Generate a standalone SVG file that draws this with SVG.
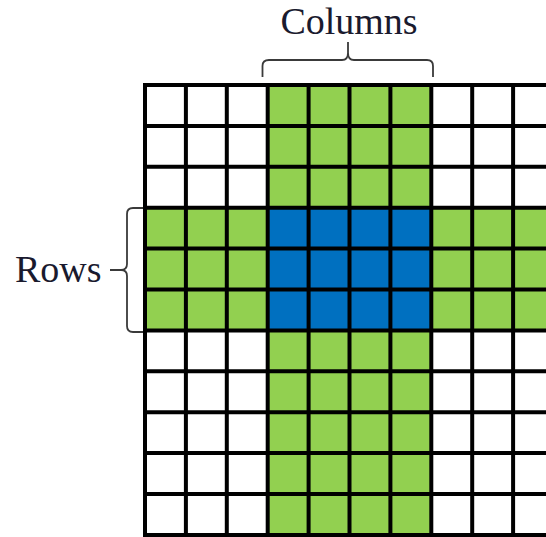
<svg xmlns="http://www.w3.org/2000/svg" width="546" height="537" viewBox="0 0 546 537">
<style>
.lbl{font-family:"Liberation Serif","DejaVu Serif",serif;font-size:38px;fill:#1a1a2e}
.grid line{stroke:#000;stroke-width:4}
.brace{fill:none;stroke:#3a3a3a;stroke-width:1.8;stroke-linejoin:round}
</style>
<rect width="546" height="537" fill="#fff"/>
<g id="cells">
<rect x="267.7" y="85" width="163.6" height="450" fill="#92D050"/>
<rect x="145" y="207.7" width="401" height="122.7" fill="#92D050"/>
<rect x="267.7" y="207.7" width="163.6" height="122.7" fill="#0070C0"/>
</g>
<g id="grid" class="grid">
<line x1="145" y1="83" x2="145" y2="537"/>
<line x1="185.9" y1="83" x2="185.9" y2="537"/>
<line x1="226.8" y1="83" x2="226.8" y2="537"/>
<line x1="267.7" y1="83" x2="267.7" y2="537"/>
<line x1="308.6" y1="83" x2="308.6" y2="537"/>
<line x1="349.5" y1="83" x2="349.5" y2="537"/>
<line x1="390.4" y1="83" x2="390.4" y2="537"/>
<line x1="431.3" y1="83" x2="431.3" y2="537"/>
<line x1="472.2" y1="83" x2="472.2" y2="537"/>
<line x1="513.1" y1="83" x2="513.1" y2="537"/>
<line x1="143" y1="85" x2="546" y2="85"/>
<line x1="143" y1="125.9" x2="546" y2="125.9"/>
<line x1="143" y1="166.8" x2="546" y2="166.8"/>
<line x1="143" y1="207.7" x2="546" y2="207.7"/>
<line x1="143" y1="248.6" x2="546" y2="248.6"/>
<line x1="143" y1="289.5" x2="546" y2="289.5"/>
<line x1="143" y1="330.4" x2="546" y2="330.4"/>
<line x1="143" y1="371.3" x2="546" y2="371.3"/>
<line x1="143" y1="412.2" x2="546" y2="412.2"/>
<line x1="143" y1="453.1" x2="546" y2="453.1"/>
<line x1="143" y1="494" x2="546" y2="494"/>
<line x1="143" y1="534.9" x2="546" y2="534.9"/>
</g>
<g id="columns-label">
<path class="brace" d="M262.5,77 V66 Q262.5,60 269,60 H342 Q348,60 348,53 V42 M348,53 Q348,60 354,60 H427 Q433,60 433,66 V77"/>
<text class="lbl" x="349" y="34" text-anchor="middle">Columns</text>
</g>
<g id="rows-label">
<path class="brace" d="M143,208 H133 Q127,208 127,214 V264 Q127,270 121,270 H110 M121,270 Q127,270 127,276 V326 Q127,332 133,332 H143"/>
<text class="lbl" x="15" y="282">Rows</text>
</g>
</svg>
